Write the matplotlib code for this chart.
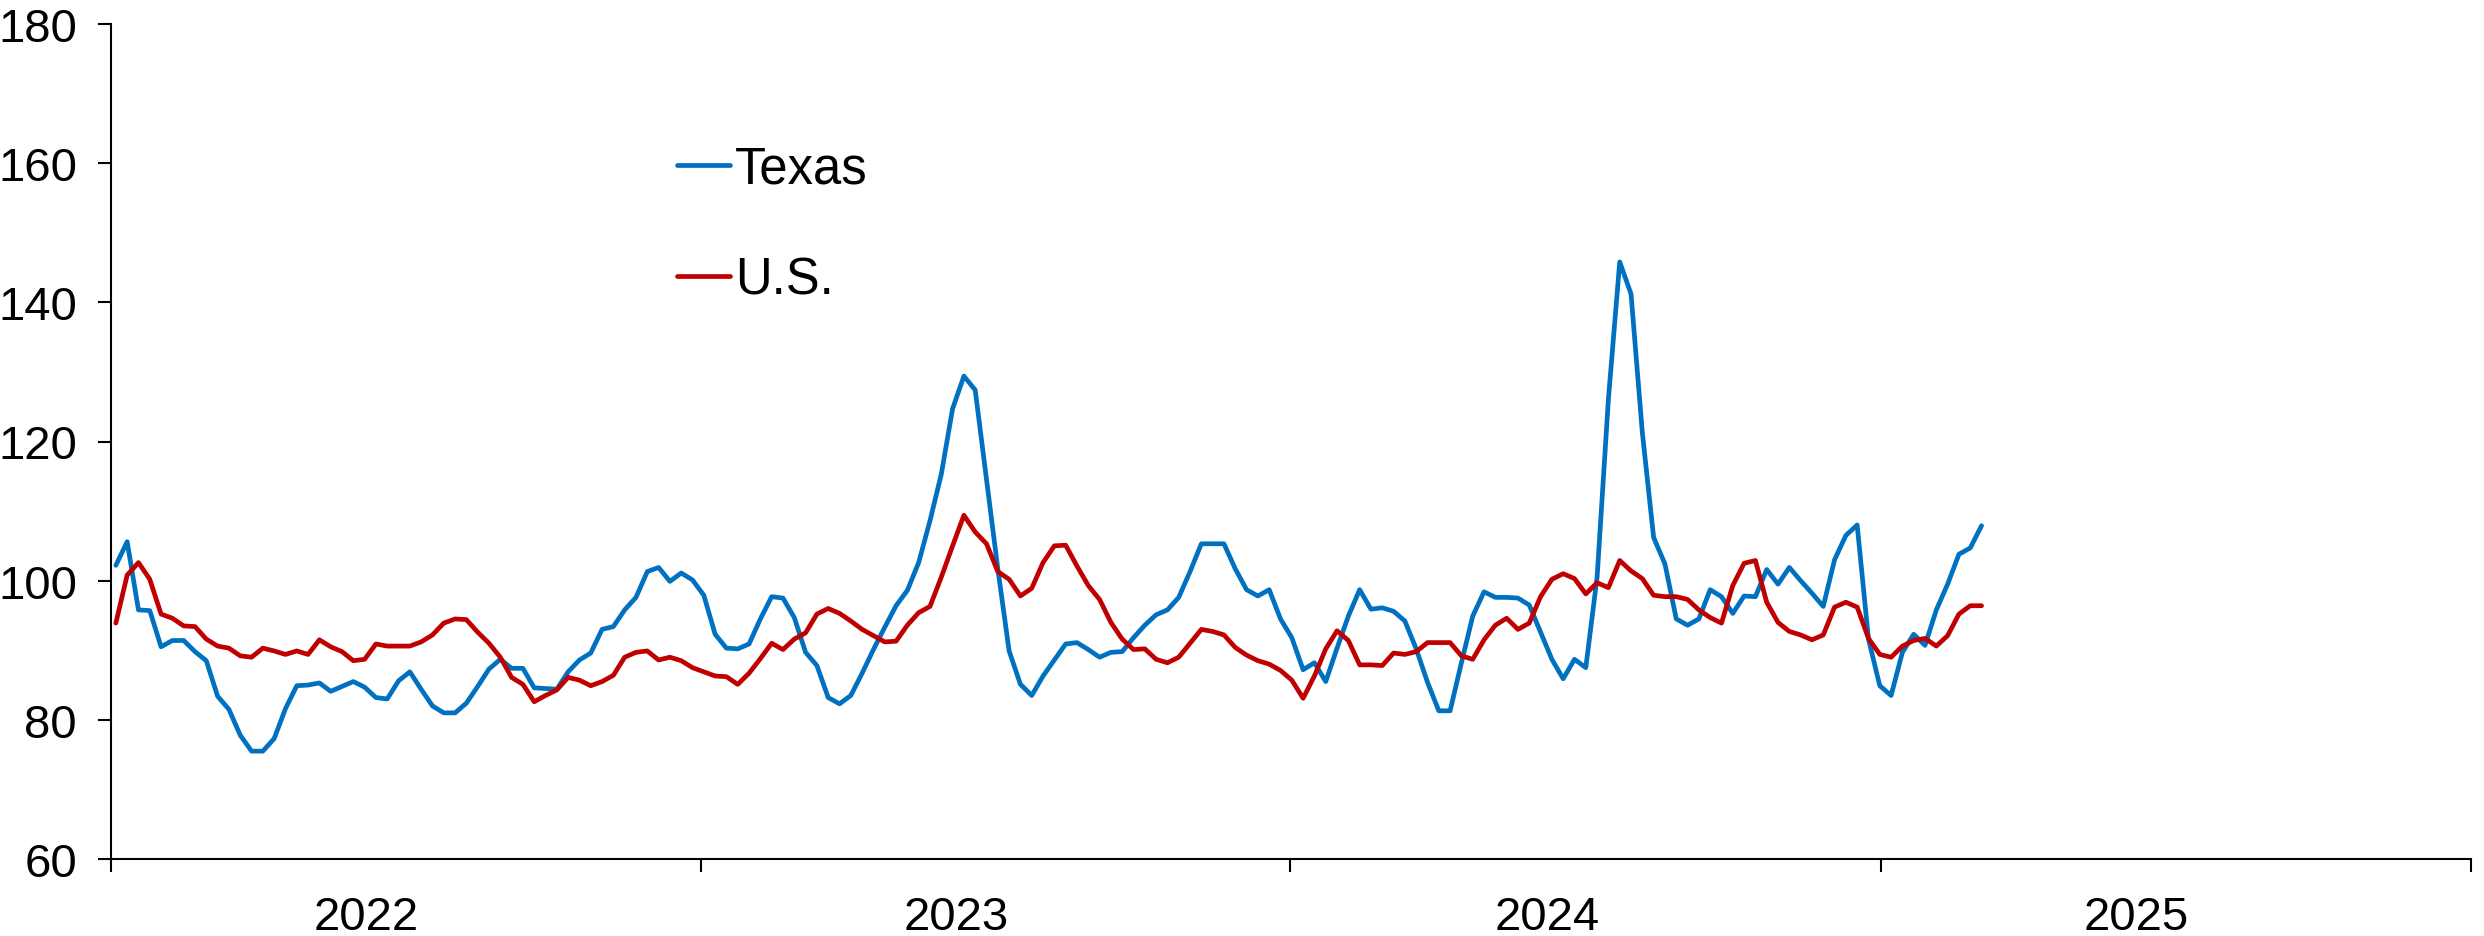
import matplotlib
matplotlib.use("Agg")
import matplotlib.pyplot as plt
import pandas as pd

plt.rcParams['font.family'] = ['Liberation Sans', 'DejaVu Sans']

start_date = "2022-01-04"
texas = [
    102.2, 105.6, 95.8, 95.7, 90.5, 91.4, 91.4, 89.8, 88.5, 83.4,
    81.5, 77.8, 75.5, 75.5, 77.3, 81.6, 84.9, 85.0, 85.3, 84.1,
    84.8, 85.5, 84.7, 83.2, 83.0, 85.6, 86.9, 84.4, 82.0, 81.0,
    81.0, 82.4, 84.8, 87.3, 88.7, 87.4, 87.4, 84.6, 84.5, 84.4,
    86.9, 88.6, 89.6, 93.0, 93.4, 95.8, 97.6, 101.3, 101.9, 99.9,
    101.1, 100.1, 97.9, 92.3, 90.3, 90.2, 90.9, 94.5, 97.7, 97.5,
    94.7, 89.7, 87.8, 83.2, 82.3, 83.5, 86.7, 90.1, 93.3, 96.4,
    98.6, 102.6, 108.6, 115.3, 124.7, 129.4, 127.4, 114.6, 101.7, 89.9,
    85.1, 83.5, 86.3, 88.6, 90.9, 91.1, 90.1, 89.0, 89.7, 89.8,
    91.8, 93.6, 95.1, 95.8, 97.6, 101.3, 105.3, 105.3, 105.3, 101.7,
    98.7, 97.8, 98.7, 94.5, 91.8, 87.2, 88.2, 85.5, 90.3, 94.9,
    98.7, 95.9, 96.1, 95.6, 94.2, 90.2, 85.4, 81.3, 81.3, 88.2,
    94.9, 98.4, 97.6, 97.6, 97.5, 96.5, 92.6, 88.7, 85.9, 88.7,
    87.5, 100.5, 126.1, 145.8, 141.2, 121.3, 106.2, 102.4, 94.5, 93.6,
    94.5, 98.7, 97.7, 95.3, 97.8, 97.7, 101.6, 99.5, 101.9, 100.0,
    98.2, 96.3, 103.0, 106.5, 108.0, 91.6, 84.9, 83.5, 89.7, 92.3,
    90.7, 95.8, 99.5, 103.8, 104.7, 107.9,
]
us = [
    93.9, 100.8, 102.6, 100.2, 95.2, 94.6, 93.5, 93.4, 91.6, 90.6,
    90.3, 89.2, 89.0, 90.3, 89.9, 89.4, 89.9, 89.4, 91.5, 90.5,
    89.8, 88.5, 88.7, 90.9, 90.6, 90.6, 90.6, 91.2, 92.2, 93.9,
    94.5, 94.4, 92.6, 91.0, 89.0, 86.1, 85.1, 82.6, 83.5, 84.3,
    86.1, 85.7, 84.9, 85.5, 86.4, 89.0, 89.7, 89.9, 88.6, 89.0,
    88.5, 87.5, 86.9, 86.3, 86.2, 85.1, 86.7, 88.8, 91.0, 90.1,
    91.6, 92.5, 95.2, 96.0, 95.3, 94.2, 93.0, 92.1, 91.2, 91.3,
    93.6, 95.4, 96.3, 100.5, 105.0, 109.4, 107.0, 105.3, 101.3, 100.2,
    97.8, 98.9, 102.6, 105.0, 105.1, 102.1, 99.3, 97.3, 94.0, 91.6,
    90.1, 90.2, 88.7, 88.2, 89.0, 91.0, 93.0, 92.7, 92.2, 90.4,
    89.3, 88.5, 88.0, 87.1, 85.7, 83.1, 86.3, 90.2, 92.8, 91.4,
    87.9, 87.9, 87.8, 89.6, 89.4, 89.8, 91.1, 91.1, 91.1, 89.2,
    88.7, 91.5, 93.6, 94.6, 93.0, 93.9, 97.7, 100.2, 101.0, 100.3,
    98.1, 99.7, 99.0, 102.9, 101.4, 100.3, 97.9, 97.7, 97.7, 97.3,
    95.8, 94.7, 93.9, 99.3, 102.5, 102.9, 96.9, 94.0, 92.7, 92.2,
    91.5, 92.2, 96.2, 96.9, 96.2, 91.7, 89.4, 89.0, 90.6, 91.4,
    91.7, 90.6, 92.1, 95.2, 96.4, 96.4,
]
series_labels = ["Texas", "U.S."]
years = [2022, 2023, 2024, 2025]
y_ticks = [60, 80, 100, 120, 140, 160, 180]

dates = pd.date_range(start_date, periods=len(texas), freq="7D")

W, H = 2484, 937
fig = plt.figure(figsize=(W / 100, H / 100), dpi=100)
ax = fig.add_axes([111 / W, 1 - 860 / H, 2360 / W, 835 / H])

ax.plot(dates, texas, color="#0070C0", lw=3.4, label=series_labels[0],
        solid_joinstyle="round", solid_capstyle="round")
ax.plot(dates, us, color="#C00000", lw=3.4, label=series_labels[1],
        solid_joinstyle="round", solid_capstyle="round")

ax.set_ylim(60, 180)
ax.set_yticks(y_ticks)
ax.set_xlim(pd.Timestamp(f"{years[0]}-01-01"), pd.Timestamp(f"{years[-1] + 1}-01-01"))

major = [pd.Timestamp(f"{y}-01-01") for y in years + [years[-1] + 1]]
ax.set_xticks(major)
ax.set_xticklabels([])
minor = [pd.Timestamp(f"{y}-06-08") for y in years]
ax.set_xticks(minor, minor=True)
ax.set_xticklabels([str(y) for y in years], minor=True)

for s in ["top", "right"]:
    ax.spines[s].set_visible(False)
for s in ["left", "bottom"]:
    ax.spines[s].set_linewidth(1.5)
    ax.spines[s].set_color("black")

ax.tick_params(axis="y", which="major", direction="out", length=9.5, width=1.5,
               labelsize=34, pad=15)
ax.tick_params(axis="x", which="major", direction="out", length=9.5, width=1.5)
ax.tick_params(axis="x", which="minor", length=0, labelsize=34, pad=26)

leg = ax.legend(loc="upper left", bbox_to_anchor=(677 / W, 1 - 146 / H),
                bbox_transform=fig.transFigure, frameon=False, fontsize=36.5,
                handlelength=1.05, handletextpad=0.1, labelspacing=1.21,
                borderpad=0, borderaxespad=0)

fig.savefig("out.png", dpi=100)
